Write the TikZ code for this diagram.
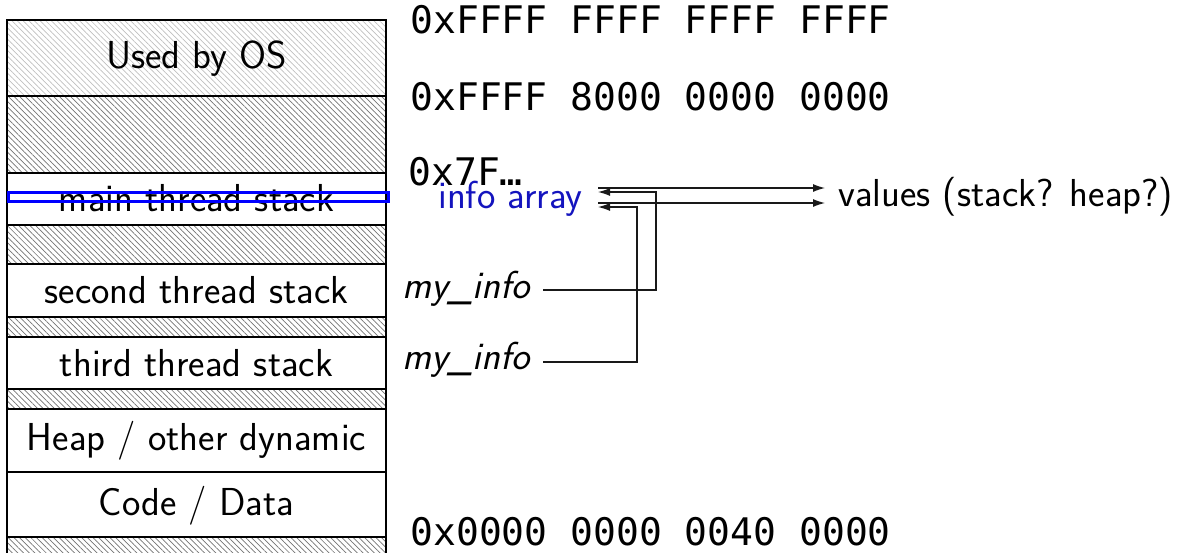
\documentclass[tikz,border=0pt]{standalone}
\usepackage{fontspec}
\newfontfamily\addrfont{DejaVu Sans Mono}
\usetikzlibrary{patterns.meta,arrows.meta}
\definecolor{infoblue}{RGB}{20,20,190}
\begin{document}
\begin{tikzpicture}[x=0.5pt,y=-0.5pt,
  region/.style={draw, line width=0.7pt, minimum width=189.5pt, anchor=north west, inner sep=0pt, outer sep=0pt},
  lighthatch/.style={pattern={Lines[angle=-45,distance=2pt,line width=0.35pt]}, pattern color=black!25},
  darkhatch/.style={pattern={Lines[angle=-45,distance=2pt,line width=0.35pt]}, pattern color=black!55},
  lbl/.style={font=\sffamily\fontsize{19.5}{23}\selectfont, inner sep=0pt, anchor=base},
  addr/.style={font=\addrfont\fontsize{19}{23}\selectfont, inner sep=0pt, anchor=base west},
  conn/.style={draw=black!90, line width=0.6pt},
  tip/.style={-{Latex[length=6pt,width=4pt]}}
]
\useasboundingbox (0,0) rectangle (1182,552);
% memory regions
\node[region, lighthatch, minimum height=38pt] (os) at (7,20) {};
\node[region, darkhatch, minimum height=38.5pt] (g1) at (7,96) {};
\node[region, minimum height=26pt] (mainst) at (7,173) {};
\node[region, darkhatch, minimum height=19.5pt] (g2) at (7,225) {};
\node[region, minimum height=26.5pt] (second) at (7,264) {};
\node[region, darkhatch, minimum height=10pt] (g3) at (7,317) {};
\node[region, minimum height=26pt] (third) at (7,337) {};
\node[region, darkhatch, minimum height=10pt] (g4) at (7,389) {};
\node[region, minimum height=31.5pt] (heap) at (7,409) {};
\node[region, minimum height=32.5pt] (code) at (7,472) {};
\path[darkhatch] (7,537) rectangle (386,553);
\draw[line width=0.7pt] (7,553) -- (7,537) -- (386,537) -- (386,553);
% region labels
\node[lbl] (tos) at (196.5,68) {Used by OS};
\node[lbl] (tmain) at (196.5,211) {main thread stack};
\node[lbl] (tsecond) at (196.5,303) {second thread stack};
\node[lbl] (tthird) at (196.5,376) {third thread stack};
\node[lbl] (theap) at (196.5,450) {Heap / other dynamic};
\node[lbl] (tcode) at (196.5,515) {Code / Data};
% highlight
\node[draw=blue, line width=1.5pt, minimum width=190pt, minimum height=4.5pt, anchor=north west, inner sep=0pt] (hl) at (7,191) {};
% addresses
\node[addr] (a1) at (410,33) {0xFFFF FFFF FFFF FFFF};
\node[addr] (a2) at (410,110) {0xFFFF 8000 0000 0000};
\node[addr] (a3) at (408,185) {0x7F…};
\node[addr] (a4) at (410,545) {0x0000 0000 0040 0000};
% info array and pointers
\node[lbl, anchor=base west, text=infoblue] (info) at (438,208) {info array};
\node[lbl, anchor=base west] (m1) at (402,298) {\textit{my\_info}};
\node[lbl, anchor=base west] (m2) at (402,369) {\textit{my\_info}};
\node[lbl, anchor=base west] (vals) at (838,206) {values (stack? heap?)};
\coordinate (ia1) at (598,192);
\coordinate (ia2) at (598,207);
\coordinate (la1) at (598,188);
\coordinate (la2) at (598,203);
\coordinate (v1) at (825,188);
\coordinate (v2) at (825,203);
\coordinate (m1r) at (543,290);
\coordinate (m2r) at (543,362);
\draw[conn, tip] (m1r) -| (656,192) -- (ia1);
\draw[conn, tip] (m2r) -| (637,207) -- (ia2);
\draw[conn, tip] (la1) -- (v1);
\draw[conn, tip] (la2) -- (v2);
\end{tikzpicture}
\end{document}
